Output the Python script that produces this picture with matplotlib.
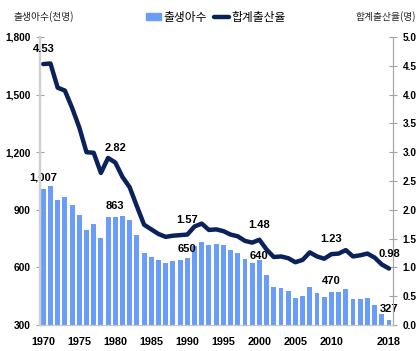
import numpy as np
import matplotlib
matplotlib.use("Agg")
import matplotlib.pyplot as plt
from matplotlib.lines import Line2D
from matplotlib.patches import Patch

# births (thousands) and total fertility rate, 1970-2018
years = list(range(1970, 2019))
births = [1007, 1025, 953, 966, 923, 875, 797, 825, 751, 863,
          863, 867, 848, 770, 675, 656, 636, 624, 634, 640,
          650, 710, 731, 716, 722, 715, 691, 675, 642, 621,
          640, 560, 497, 495, 476, 438, 451, 497, 466, 445,
          470, 471, 485, 437, 435, 438, 406, 358, 327]
tfr = [4.53, 4.54, 4.12, 4.07, 3.77, 3.43, 3.00, 2.99, 2.64, 2.90,
       2.82, 2.57, 2.39, 2.06, 1.74, 1.66, 1.58, 1.53, 1.55, 1.56,
       1.57, 1.71, 1.76, 1.65, 1.66, 1.63, 1.57, 1.54, 1.46, 1.43,
       1.48, 1.31, 1.18, 1.19, 1.16, 1.09, 1.13, 1.26, 1.19, 1.15,
       1.23, 1.24, 1.30, 1.19, 1.21, 1.24, 1.17, 1.05, 0.98]
xtick_years = [1970, 1975, 1980, 1985, 1990, 1995, 2000, 2005, 2010, 2018]
birth_labels = {1970: "1,007", 1980: "863", 1990: "650", 2000: "640", 2010: "470", 2018: "327"}
tfr_labels = {1970: "4.53", 1980: "2.82", 1990: "1.57", 2000: "1.48", 2010: "1.23", 2018: "0.98"}

BAR = "#6a9cfb"
LINE = "#0b2159"
NUM = ["Liberation Sans", "DejaVu Sans"]
KR = ["Noto Sans CJK KR", "DejaVu Sans"]

fig = plt.figure(figsize=(4.16, 3.51), dpi=100)
ax = fig.add_axes([0.0962, 0.0741, 0.8485, 0.8205])
ax2 = ax.twinx()

ax.bar(years, births, width=0.68, color=BAR, zorder=1)
ax.set_ylim(300, 1800)
ax.set_xlim(1969.55, 2018.55)
ax.set_yticks([300, 600, 900, 1200, 1500, 1800])
ax.set_yticklabels([f"{v:,}" for v in [300, 600, 900, 1200, 1500, 1800]],
                   fontfamily=NUM, fontweight="bold", fontsize=7.3)
ax.set_xticks(xtick_years)
ax.set_xticklabels([str(y) for y in xtick_years], fontfamily=NUM,
                   fontweight="bold", fontsize=7.8)
ax.tick_params(axis="x", length=0, pad=9)
ax.tick_params(axis="y", direction="inout", length=6, width=0.8, color="#a0a0a0", pad=4)

ax2.plot(years, tfr, color=LINE, lw=3.2, solid_joinstyle="round",
         solid_capstyle="round", zorder=3)
ax2.set_ylim(0, 5)
ax2.set_yticks(np.arange(0, 5.01, 0.5))
ax2.set_yticklabels([f"{v:.1f}" for v in np.arange(0, 5.01, 0.5)],
                    fontfamily=NUM, fontweight="bold", fontsize=7.3)
ax2.tick_params(axis="y", direction="inout", length=6, width=0.8, color="#a0a0a0", pad=4)

for a in (ax, ax2):
    a.spines["top"].set_visible(False)
    a.spines["left"].set_color("#d0d0d0")
    a.spines["left"].set_linewidth(1.6)
    a.spines["right"].set_color("#a8a8a8")
    a.spines["right"].set_linewidth(0.8)
    a.spines["bottom"].set_color("#c8c8c8")
    a.spines["bottom"].set_linewidth(0.8)
ax.set_zorder(ax2.get_zorder() - 1)
ax2.patch.set_visible(False)

for yr, txt in birth_labels.items():
    off = 4.5
    if yr == 1990:
        off = 2.5
    if yr == 2000:
        off = -1
    ax.annotate(txt, (yr, births[years.index(yr)]), xytext=(0, off),
                textcoords="offset points", ha="center", va="bottom",
                fontfamily=NUM, fontweight="bold", fontsize=8, zorder=5)
for yr, txt in tfr_labels.items():
    ax2.annotate(txt, (yr, tfr[years.index(yr)]), xytext=(0, 7),
                 textcoords="offset points", ha="center", va="bottom",
                 fontfamily=NUM, fontweight="bold", fontsize=8, zorder=5)

fig.text(13 / 416, 1 - 17 / 351, "출생아수(천명)", fontfamily=KR, fontsize=7,
         ha="left", va="center", color="#222222")
fig.text(355 / 416, 1 - 17 / 351, "합계출산율(명)", fontfamily=KR, fontsize=7,
         ha="left", va="center", color="#222222")

handles = [Patch(color=BAR), Line2D([0], [0], color=LINE, lw=3.2, solid_capstyle="round")]
fig.legend(handles, ["출생아수", "합계출산율"], loc="center", ncol=2,
           bbox_to_anchor=(216 / 416, 1 - 17 / 351), frameon=False,
           prop={"family": KR, "size": 8.5}, handlelength=1.3, handleheight=0.6,
           handletextpad=0.2, columnspacing=0.6)

fig.savefig("out.png", dpi=100)
